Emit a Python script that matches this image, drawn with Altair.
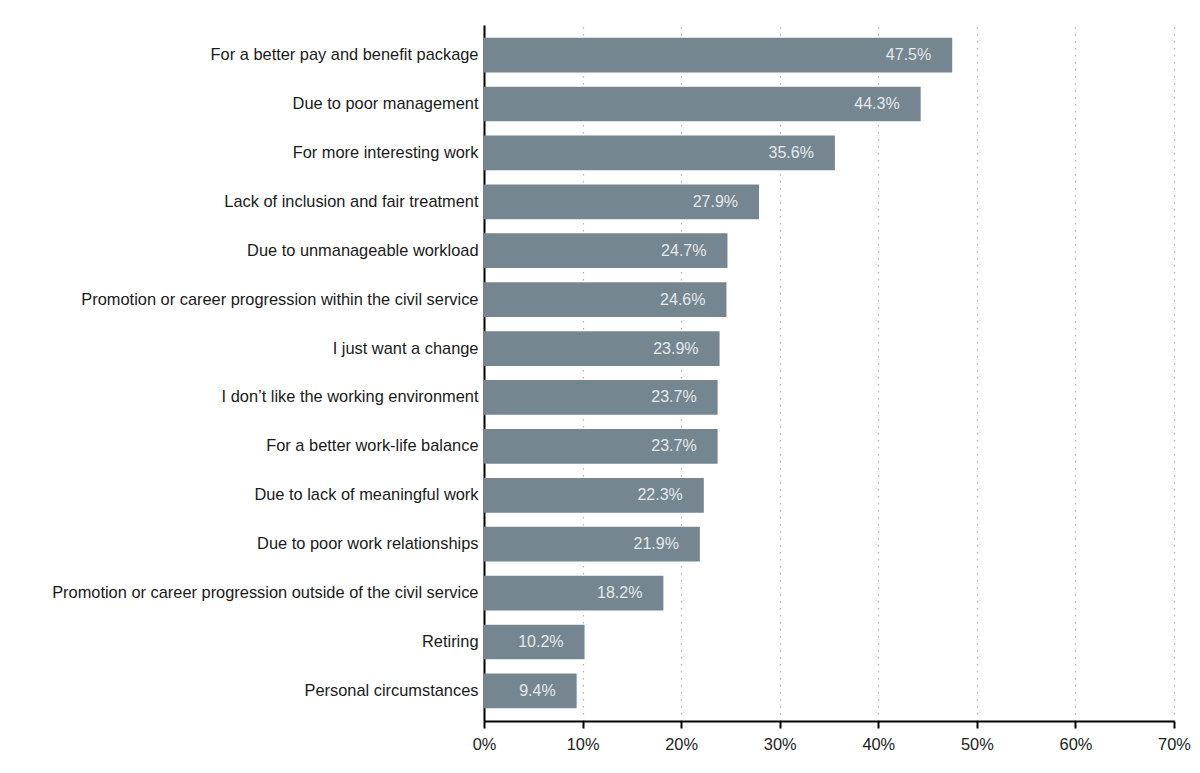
import altair as alt
import pandas as pd

reasons = [
    "For a better pay and benefit package",
    "Due to poor management",
    "For more interesting work",
    "Lack of inclusion and fair treatment",
    "Due to unmanageable workload",
    "Promotion or career progression within the civil service",
    "I just want a change",
    "I don\u2019t like the working environment",
    "For a better work-life balance",
    "Due to lack of meaningful work",
    "Due to poor work relationships",
    "Promotion or career progression outside of the civil service",
    "Retiring",
    "Personal circumstances",
]
values = [47.5, 44.3, 35.6, 27.9, 24.7, 24.6, 23.9, 23.7, 23.7, 22.3, 21.9, 18.2, 10.2, 9.4]
x_ticks = [0, 10, 20, 30, 40, 50, 60, 70]

df = pd.DataFrame({"reason": reasons, "value": values})
df["label"] = [f"{v:.1f}%" for v in values]

FONT = "Liberation Sans"

y_enc = alt.Y(
    "reason:N",
    sort=reasons,
    title=None,
    scale=alt.Scale(paddingInner=0.29, paddingOuter=0.26),
    axis=alt.Axis(
        ticks=False,
        domain=True,
        domainColor="#000000",
        domainWidth=2,
        labelFont=FONT,
        labelFontSize=16.4,
        labelColor="#1a1a1a",
        labelPadding=6,
        labelLimit=600,
        grid=False,
    ),
)

x_enc = alt.X(
    "value:Q",
    title=None,
    scale=alt.Scale(domain=[0, 70], nice=False, zero=True),
    axis=alt.Axis(
        values=x_ticks,
        labelExpr="datum.value + '%'",
        labelFlush=False,
        labelOverlap=False,
        domainColor="#000000",
        domainWidth=2,
        tickColor="#000000",
        tickWidth=2,
        tickSize=7,
        labelFont=FONT,
        labelFontSize=16.4,
        labelColor="#222222",
        labelPadding=8,
        grid=True,
        gridColor="#b0b0b0",
        gridWidth=1.2,
        gridDash=[1.5, 5.5],
    ),
)

bars = alt.Chart(df).mark_bar(color="#758691").encode(x=x_enc, y=y_enc)

labels = alt.Chart(df).mark_text(
    align="right",
    baseline="middle",
    dx=-21,
    font=FONT,
    fontSize=16,
    color="#e3e9ec",
).encode(
    x=alt.X("value:Q"),
    y=alt.Y("reason:N", sort=reasons),
    text="label:N",
)

chart = (
    alt.layer(bars, labels)
    .properties(
        width=690,
        height=696,
        padding={"left": 476, "top": 17, "right": 18, "bottom": 40},
        autosize=alt.AutoSizeParams(type="none"),
        background="#ffffff",
    )
    .configure_view(stroke=None)
)

chart.save("out.html", embed_options={"renderer": "svg", "actions": False})
